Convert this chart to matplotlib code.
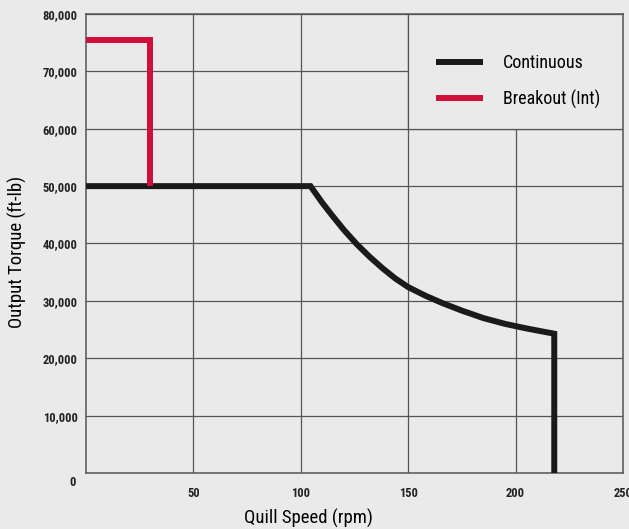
import matplotlib
matplotlib.use("Agg")
import matplotlib.pyplot as plt
from matplotlib.patches import Rectangle
from matplotlib.ticker import FuncFormatter

# Dados
continuous_rpm = [0, 104.5, 110, 115, 120, 126, 132, 138, 144, 150, 158, 166, 175,
                  185, 195, 205, 212, 218, 218]
continuous_torque = [50000, 50000, 47100, 44700, 42400, 39900, 37700, 35700, 33900, 32400,
                     30900, 29600, 28300, 27000, 26000, 25200, 24700, 24280, 0]
breakout_rpm = [0, 30, 30]
breakout_torque = [75500, 75500, 50000]

x_ticks = [50, 100, 150, 200, 250]
y_ticks = [10000, 20000, 30000, 40000, 50000, 60000, 70000, 80000]

BG = "#e9eae9"
GRID = "#555555"
BLACK = "#1a1a1a"
RED = "#d0103b"
FONT = ["Roboto Condensed", "DejaVu Sans"]

plt.rcParams["font.family"] = FONT

fig = plt.figure(figsize=(6.29, 5.29), dpi=100, facecolor=BG)
ax = fig.add_axes([86 / 629, 56 / 529, 537 / 629, 459 / 529])
ax.set_facecolor(BG)

ax.plot(continuous_rpm, continuous_torque, color=BLACK, lw=4.3,
        solid_joinstyle="miter", solid_capstyle="butt", zorder=3, label="Continuous")
ax.plot(breakout_rpm, breakout_torque, color=RED, lw=4.3,
        solid_joinstyle="miter", solid_capstyle="butt", zorder=3, label="Breakout (Int)")

ax.set_xlim(0, 250)
ax.set_ylim(0, 80000)
ax.set_xticks(x_ticks)
ax.set_yticks(y_ticks)
ax.yaxis.set_major_formatter(FuncFormatter(lambda v, p: f"{int(v):,}"))
ax.tick_params(length=0, labelsize=9, colors="#222222")
ax.tick_params(axis="x", pad=10)
ax.tick_params(axis="y", pad=6)
for lbl in ax.get_xticklabels() + ax.get_yticklabels():
    lbl.set_fontweight("bold")

ax.set_axisbelow(True)
ax.grid(True, color=GRID, lw=0.9)
for s in ax.spines.values():
    s.set_color(GRID)
    s.set_linewidth(1.1)

# caixa da legenda cobrindo a celula da grade
ax.add_patch(Rectangle((0.6, 0.75), 0.4, 0.25, transform=ax.transAxes,
                       facecolor=BG, edgecolor=GRID, lw=0.9, zorder=1))

ax.legend(loc="upper left", bbox_to_anchor=(0.652, 0.912), frameon=False,
          fontsize=13, handlelength=2.6, handletextpad=1.1,
          labelspacing=0.95, borderpad=0, borderaxespad=0)

ax.set_xlabel("Quill Speed (rpm)", fontsize=13.5, va="center")
ax.xaxis.set_label_coords((308 - 86) / 537, (473 - 518) / 459)
ax.set_ylabel("Output Torque (ft-lb)", fontsize=13.5, va="center")
ax.yaxis.set_label_coords((17.5 - 86) / 537, (473 - 252) / 459)

fig.text(72.7 / 629, 1 - 482.7 / 529, "0", fontsize=9, fontweight="bold",
         color="#222222", ha="center", va="center")

fig.savefig("out.png", dpi=100, facecolor=BG)
